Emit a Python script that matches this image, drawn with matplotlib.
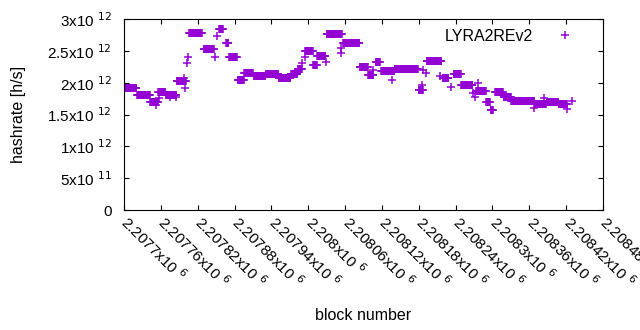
import matplotlib
matplotlib.use('Agg')
import matplotlib.pyplot as plt
from matplotlib.ticker import FuncFormatter
from matplotlib.transforms import ScaledTranslation
import numpy as np

plt.rcParams['font.family'] = ['Liberation Sans', 'DejaVu Sans']

# plateaus of the hashrate estimate: first block, last block, value [1e12 h/s]
run_start = [2207700, 2207721, 2207743, 2207756, 2207768, 2207786, 2207806, 2207830,
             2207855, 2207866, 2207871, 2207885, 2207896, 2207911, 2207931, 2207952,
             2207972, 2207983, 2207995, 2208008, 2208015, 2208030, 2208057, 2208084,
             2208098, 2208110, 2208119, 2208141, 2208180, 2208193, 2208219, 2208237,
             2208249, 2208274, 2208290, 2208297, 2208304, 2208318, 2208331, 2208369,
             2208388, 2208408]
run_end = [2207720, 2207742, 2207755, 2207767, 2207785, 2207801, 2207827, 2207846,
           2207861, 2207870, 2207884, 2207895, 2207910, 2207930, 2207951, 2207971,
           2207982, 2207990, 2208007, 2208014, 2208028, 2208055, 2208083, 2208097,
           2208106, 2208117, 2208140, 2208178, 2208187, 2208217, 2208228, 2208248,
           2208267, 2208289, 2208296, 2208301, 2208317, 2208330, 2208368, 2208387,
           2208407, 2208421]
run_value = [1.92, 1.81, 1.70, 1.85, 1.81, 2.03, 2.78, 2.53,
             2.84, 2.62, 2.40, 2.04, 2.15, 2.10, 2.14, 2.07,
             2.14, 2.21, 2.50, 2.28, 2.42, 2.76, 2.62, 2.25,
             2.12, 2.33, 2.18, 2.21, 1.88, 2.34, 2.07, 2.14,
             1.96, 1.87, 1.70, 1.57, 1.85, 1.78, 1.71, 1.66,
             1.70, 1.66]

# isolated blocks off the plateaus
single_block = [2207700, 2207752, 2207757, 2207775, 2207785, 2207798, 2207800, 2207803,
                2207804, 2207848, 2207852, 2207990, 2207995, 2208029, 2208054, 2208054,
                2208106, 2208137, 2208186, 2208187, 2208191, 2208215, 2208232, 2208269,
                2208272, 2208276, 2208367, 2208384, 2208422, 2208429]
single_value = [1.95, 1.65, 1.76, 1.77, 1.78, 2.07, 1.91, 2.31,
                2.40, 2.40, 2.73, 2.31, 2.40, 2.32, 2.46, 2.54,
                2.20, 2.04, 1.96, 2.20, 2.15, 2.10, 1.93, 1.84,
                1.78, 2.00, 1.60, 1.76, 1.58, 1.71]

ytick_vals = [0, 0.5e12, 1e12, 1.5e12, 2e12, 2.5e12, 3e12]
ytick_labels = ['0', r'5x10 $^{11}$', r'1x10 $^{12}$', r'1.5x10 $^{12}$',
                r'2x10 $^{12}$', r'2.5x10 $^{12}$', r'3x10 $^{12}$']

blocks = []
rates = []
for s, e, v in zip(run_start, run_end, run_value):
    for b in range(s, e + 1):
        blocks.append(b)
        rates.append(v * 1e12)
blocks += single_block
rates += [v * 1e12 for v in single_value]

fig = plt.figure(figsize=(6.4, 3.3), dpi=100)
ax = fig.add_axes([124 / 640, 1 - 210 / 330, (603 - 124) / 640, (210 - 19) / 330])

ax.plot(blocks, rates, linestyle='none', marker='+', color='#9400d3',
        markersize=5.6, markeredgewidth=1.1, label='LYRA2REv2')

ax.set_xlim(2207700, 2208480)
ax.set_ylim(0, 3e12)
ax.set_xticks(np.arange(2207700, 2208481, 60))
ax.xaxis.set_major_formatter(FuncFormatter(lambda x, p: '%gx10 $^{6}$' % (x / 1e6)))
ax.set_yticks(ytick_vals)
ax.set_yticklabels(ytick_labels)

ax.tick_params(direction='in', length=3.5, width=0.8, top=True, right=True,
               labelsize=11)
ax.tick_params(axis='y', pad=9)
ax.tick_params(axis='x', pad=6)
shift = ScaledTranslation(0.07, 0.06, fig.dpi_scale_trans)
for lab in ax.get_xticklabels():
    lab.set_rotation(-45)
    lab.set_ha('left')
    lab.set_va('top')
    lab.set_rotation_mode('anchor')
    lab.set_transform(lab.get_transform() + shift)
for sp in ax.spines.values():
    sp.set_linewidth(0.8)

ax.set_xlabel('block number', fontsize=11.5)
ax.set_ylabel('hashrate [h/s]', fontsize=11.5)
ax.xaxis.set_label_coords(0.5, -0.515)
ax.yaxis.set_label_coords(-0.205, 0.5)

leg = ax.legend(loc='upper right', frameon=False, markerfirst=False,
                fontsize=11.5, handletextpad=1.25, handlelength=1.5,
                bbox_to_anchor=(0.965, 1.0), borderaxespad=0.2)

fig.savefig('out.png', dpi=100)
